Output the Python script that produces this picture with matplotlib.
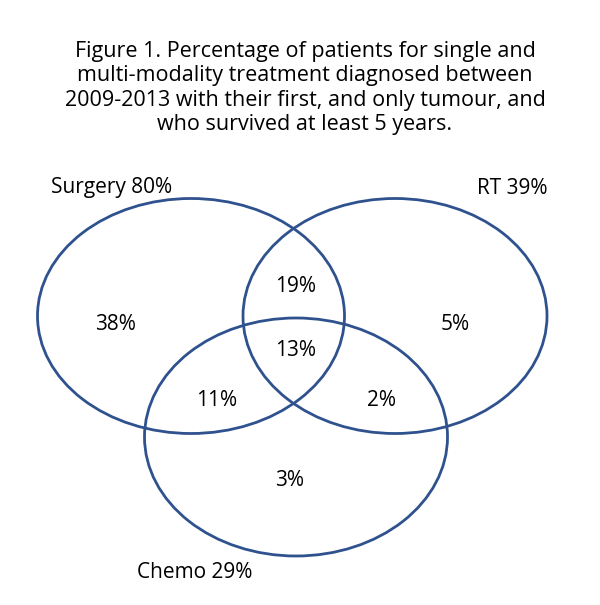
import matplotlib.pyplot as plt
from matplotlib.patches import Ellipse

# set labels and region percentages
set_names = ['Surgery', 'RT', 'Chemo']
set_totals = [80, 39, 29]
region_names = ['S', 'R', 'C', 'SR', 'SRC', 'SC', 'RC']
region_values = [38, 5, 3, 19, 13, 11, 2]

title = ('Figure 1. Percentage of patients for single and\n'
         'multi-modality treatment diagnosed between\n'
         '2009-2013 with their first, and only tumour, and\n'
         'who survived at least 5 years.')

fig = plt.figure(figsize=(6, 6.05), dpi=100)
ax = fig.add_axes([0, 0, 1, 1])
ax.set_xlim(0, 600)
ax.set_ylim(605, 0)
ax.axis('off')

font = 'Open Sans'
color = '#2F528F'

# ellipse layout in pixel coords
ellipses = [(191, 316, 307, 235), (395, 316, 304, 235), (296, 437, 303, 238)]
for cx, cy, w, h in ellipses:
    ax.add_patch(Ellipse((cx, cy), w, h, fill=False, edgecolor=color, lw=2))

ax.text(305, 88, title, ha='center', va='center', fontsize=15.5,
        family=font, linespacing=1.2)

set_label_pos = [(112, 188), (512, 188), (195, 573)]
for (x, y), name, tot in zip(set_label_pos, set_names, set_totals):
    ax.text(x, y, f'{name} {tot}%', ha='center', va='center', fontsize=15, family=font)

region_pos = {'S': (116, 324), 'R': (455, 324), 'C': (290, 480),
              'SR': (296, 287), 'SRC': (296, 351), 'SC': (217, 401), 'RC': (381, 401)}
for name, val in zip(region_names, region_values):
    x, y = region_pos[name]
    ax.text(x, y, f'{val}%', ha='center', va='center', fontsize=15, family=font)

fig.savefig('out.png', dpi=100)
